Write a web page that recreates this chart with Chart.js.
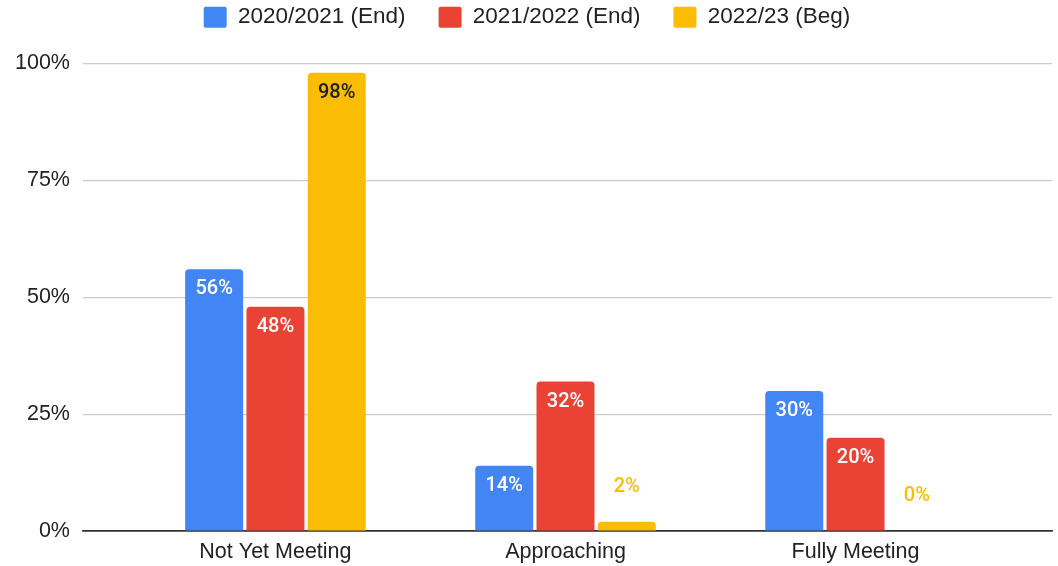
<!DOCTYPE html>
<html>
<head>
<meta charset="utf-8">
<script src="https://cdn.jsdelivr.net/npm/chart.js@4/dist/chart.umd.min.js"></script>
<style>
  html, body { margin: 0; padding: 0; background: #fff; }
  #wrap { width: 1058px; height: 566px; position: relative; }
</style>
</head>
<body>
<div id="wrap"><canvas id="graficoMetas"></canvas></div>
<script>
var categorias = ['Not Yet Meeting', 'Approaching', 'Fully Meeting'];
var nomesSeries = ['2020/2021 (End)', '2021/2022 (End)', '2022/23 (Beg)'];
var valores2021 = [56, 14, 30];
var valores2022 = [48, 32, 20];
var valores2023 = [98, 2, 0];
var ticksY = [0, 25, 50, 75, 100];

var cores = ['#4285F4', '#EA4335', '#FBBC04'];
var coresRotuloDentro = ['#ffffff', '#ffffff', '#202124'];

// empurra as categorias para dentro, como no grafico original
var recuoEixoX = {
    id: 'recuoEixoX',
    afterLayout: function (chart) {
        var x = chart.scales.x;
        var recuo = x.width * 0.051;
        x._startPixel = x.left + recuo - 2;
        x._length = x.width - 2 * recuo;
    }
};

// espaco extra entre a legenda e o grafico
var espacoLegenda = {
    id: 'espacoLegenda',
    beforeLayout: function (chart) {
        var lg = chart.legend;
        if (lg && !lg._espaco) {
            var fitOriginal = lg.fit;
            lg.fit = function () {
                fitOriginal.call(this);
                this.height += 25;
            };
            lg._espaco = true;
        }
    }
};

// rotulos de valor em cada barra
var rotulosBarras = {
    id: 'rotulosBarras',
    afterDatasetsDraw: function (chart) {
        var ctx = chart.ctx;
        ctx.save();
        ctx.font = '500 20px Roboto';
        ctx.textAlign = 'center';
        ctx.textBaseline = 'middle';
        chart.data.datasets.forEach(function (ds, i) {
            var meta = chart.getDatasetMeta(i);
            meta.data.forEach(function (bar, j) {
                var texto = ds.data[j] + '%';
                var altura = bar.base - bar.y;
                if (altura > 40) {
                    ctx.fillStyle = coresRotuloDentro[i];
                    ctx.fillText(texto, bar.x, bar.y + 20);
                } else {
                    ctx.fillStyle = cores[i];
                    ctx.fillText(texto, bar.x, bar.y - 35);
                }
            });
        });
        ctx.restore();
    }
};

var serie = function (nome, valores, cor) {
    return {
        label: nome,
        data: valores,
        backgroundColor: cor,
        borderRadius: { topLeft: 4, topRight: 4 },
        borderSkipped: 'bottom',
        categoryPercentage: 0.634,
        barPercentage: 0.946
    };
};

var data = {
    labels: categorias,
    datasets: [
        serie(nomesSeries[0], valores2021, cores[0]),
        serie(nomesSeries[1], valores2022, cores[1]),
        serie(nomesSeries[2], valores2023, cores[2])
    ]
};

var options = {
    responsive: true,
    maintainAspectRatio: false,
    animation: false,
    layout: { padding: { top: -27, right: 6, bottom: -7, left: 2 } },
    plugins: {
        tooltip: { enabled: false },
        legend: {
            position: 'top',
            labels: {
                font: { family: 'Liberation Sans', size: 22.5 },
                color: '#222222',
                boxWidth: 23,
                boxHeight: 21,
                useBorderRadius: true,
                borderRadius: 2,
                padding: 33
            }
        }
    },
    scales: {
        x: {
            grid: { display: false, drawTicks: false },
            border: { display: true, color: '#333333', width: 1.5 },
            ticks: {
                font: { family: 'Liberation Sans', size: 21.5 },
                color: '#222222',
                padding: 8
            }
        },
        y: {
            min: 0,
            max: 100,
            afterBuildTicks: function (axis) {
                axis.ticks = ticksY.map(function (v) { return { value: v }; });
            },
            border: { display: false },
            grid: {
                drawTicks: false,
                color: function (c) { return c.tick.value === 0 ? '#333333' : '#cccccc'; },
                lineWidth: function (c) { return c.tick.value === 0 ? 1.5 : 1.2; }
            },
            ticks: {
                font: { family: 'Liberation Sans', size: 21.5 },
                color: '#222222',
                padding: 13,
                callback: function (v) { return v + '%'; }
            }
        }
    }
};

var ctx = document.getElementById('graficoMetas');
var grafico = new Chart(ctx, {
    type: 'bar',
    data: data,
    options: options,
    plugins: [recuoEixoX, espacoLegenda, rotulosBarras]
});
</script>
</body>
</html>
